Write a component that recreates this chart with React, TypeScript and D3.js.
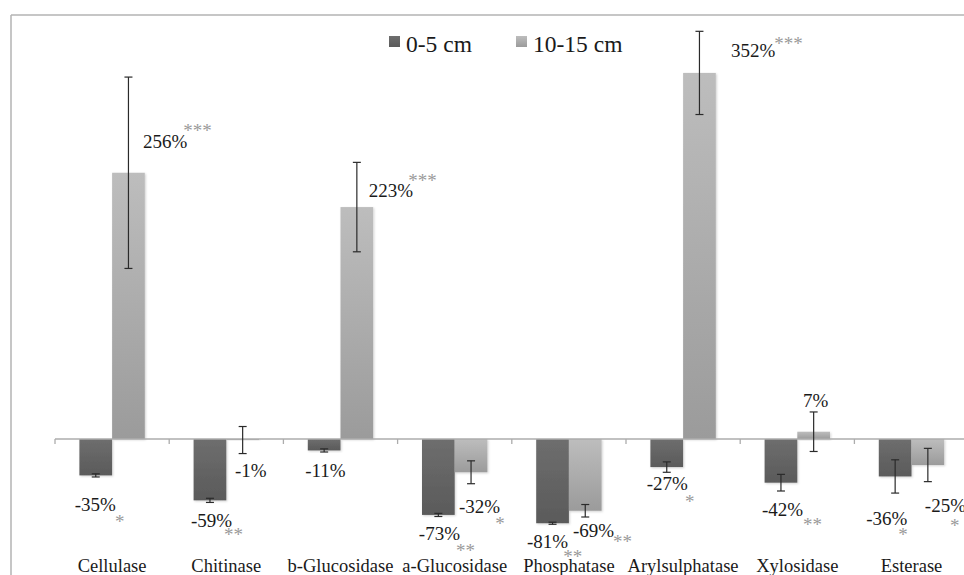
import React from "react";
import * as d3 from "d3";

const CATEGORIES = ["Cellulase", "Chitinase", "b-Glucosidase", "a-Glucosidase", "Phosphatase", "Arylsulphatase", "Xylosidase", "Esterase"];
const SERIES = ["0-5 cm", "10-15 cm"];
const VALUES_0_5 = [-35, -59, -11, -73, -81, -27, -42, -36];
const VALUES_10_15 = [256, -1, 223, -32, -69, 352, 7, -25];
const ERR_0_5 = [1.5, 2, 1.5, 1.5, 1, 5, 8, 16];
const ERR_10_15 = [92, 13, 43, 11, 6, 40, 19, 16];
const SIG_0_5 = ["*", "**", "", "**", "**", "*", "**", "*"];
const SIG_10_15 = ["***", "", "***", "*", "**", "***", "", "*"];

// layout: label offsets relative to bar end [dx, dy, starDx, starDy]
const LABEL_OFFSETS_0_5 = [
  [-21, 35.6, -1, 17], [-19, 26.6, -8, 14], [-19, 26.6, 0, 0], [-19.5, 25, -4, 17],
  [-25.5, 25, -5, 15], [-20, 23, -3, 18], [-19, 33, 0, 15], [-29, 48.6, -9, 16],
];
const LABEL_OFFSETS_10_15 = [
  [14.5, -24.8, -4, -11], [-7.6, 37, 0, 0], [12, -10, -5, -10], [-12, 40.7, -5, 17],
  [-12.3, 26, -1, 11], [31.5, -16, -1, -7], [-10.6, -24.7, 0, 0], [-3, 47, -16, 20],
];

const W = 964;
const H = 575;
const FONT = '"Liberation Serif", "DejaVu Serif", "Times New Roman", serif';

export default function App() {
  const x = d3.scaleBand<string>().domain(CATEGORIES).range([55, 55 + 8 * 114.2]).paddingInner(0).paddingOuter(0);
  const xs = d3.scaleBand<string>().domain(SERIES).range([0, x.bandwidth()]).paddingInner(0).paddingOuter(0.746);
  const y = d3.scaleLinear().domain([-100, 400]).range([439 + 104, 439 - 416]);
  const y0 = y(0);

  const series = [
    { key: SERIES[0], values: VALUES_0_5, err: ERR_0_5, sig: SIG_0_5, off: LABEL_OFFSETS_0_5, fill: "url(#gDark)" },
    { key: SERIES[1], values: VALUES_10_15, err: ERR_10_15, sig: SIG_10_15, off: LABEL_OFFSETS_10_15, fill: "url(#gLight)" },
  ];

  const fmt = (v: number) => `${v}%`;

  return (
    <div style={{ position: "absolute", left: 0, top: 0 }}>
      <svg width={W} height={H} style={{ display: "block", background: "#fff", fontFamily: FONT }}>
        <defs>
          <linearGradient id="gDark" x1="0" y1="0" x2="0" y2="1">
            <stop offset="0" stopColor="#6e6e6e" />
            <stop offset="1" stopColor="#5a5a5a" />
          </linearGradient>
          <linearGradient id="gLight" x1="0" y1="0" x2="0" y2="1">
            <stop offset="0" stopColor="#bdbdbd" />
            <stop offset="1" stopColor="#9b9b9b" />
          </linearGradient>
          <filter id="shadow" x="-20%" y="-20%" width="140%" height="140%">
            <feDropShadow dx="1" dy="1" stdDeviation="1" floodColor="#000" floodOpacity="0.18" />
          </filter>
        </defs>

        {/* frame */}
        <line x1={11} y1={15} x2={W} y2={15} stroke="#b3b3b3" strokeWidth={1.5} />
        <line x1={11} y1={15} x2={11} y2={H} stroke="#b3b3b3" strokeWidth={1.5} />

        {/* bars */}
        {series.map((s) =>
          CATEGORIES.map((c, i) => {
            const v = s.values[i];
            const bx = (x(c) ?? 0) + (xs(s.key) ?? 0);
            const yv = y(v);
            return (
              <rect
                key={`${s.key}-${c}`}
                x={bx}
                y={Math.min(yv, y0)}
                width={xs.bandwidth()}
                height={Math.abs(yv - y0)}
                fill={s.fill}
                filter="url(#shadow)"
              />
            );
          })
        )}

        {/* axis */}
        <line x1={55} y1={y0} x2={W} y2={y0} stroke="#acacac" strokeWidth={1.3} />
        {d3.range(CATEGORIES.length + 1).map((i) => {
          const tx = 55 + i * x.step();
          return <line key={`t${i}`} x1={tx} y1={y0} x2={tx} y2={y0 + 5} stroke="#acacac" strokeWidth={1.3} />;
        })}

        {/* error bars */}
        {series.map((s) =>
          CATEGORIES.map((c, i) => {
            const cx = (x(c) ?? 0) + (xs(s.key) ?? 0) + xs.bandwidth() / 2;
            const v = s.values[i];
            const e = s.err[i];
            const yt = y(v + e);
            const yb = y(v - e);
            return (
              <g key={`e-${s.key}-${c}`} stroke="#2a2a2a" strokeWidth={1.2}>
                <line x1={cx} y1={yt} x2={cx} y2={yb} />
                <line x1={cx - 4} y1={yt} x2={cx + 4} y2={yt} />
                <line x1={cx - 4} y1={yb} x2={cx + 4} y2={yb} />
              </g>
            );
          })
        )}

        {/* value labels */}
        {series.map((s) =>
          CATEGORIES.map((c, i) => {
            const cx = (x(c) ?? 0) + (xs(s.key) ?? 0) + xs.bandwidth() / 2;
            const v = s.values[i];
            const [dx, dy, sdx, sdy] = s.off[i];
            return (
              <text
                key={`l-${s.key}-${c}`}
                x={cx + dx}
                y={y(v) + dy}
                style={{ fontFamily: FONT, fontSize: "19px" }}
                fill="#1a1a1a"
              >
                {fmt(v)}
                {s.sig[i] ? (
                  <tspan dx={sdx} dy={sdy} fill="#9a9a9a">
                    {s.sig[i]}
                  </tspan>
                ) : null}
              </text>
            );
          })
        )}

        {/* category labels */}
        {CATEGORIES.map((c) => (
          <text
            key={`c-${c}`}
            x={(x(c) ?? 0) + x.bandwidth() / 2}
            y={572}
            textAnchor="middle"
            style={{ fontFamily: FONT, fontSize: "18.5px" }}
            fill="#1a1a1a"
          >
            {c}
          </text>
        ))}

        {/* legend */}
        {SERIES.map((k, i) => {
          const lx = i === 0 ? 389 : 516;
          return (
            <g key={`lg-${k}`}>
              <rect x={lx} y={36} width={11} height={11} fill={series[i].fill} />
              <text x={lx + 17} y={52} style={{ fontFamily: FONT, fontSize: "23.5px" }} fill="#1a1a1a">
                {k}
              </text>
            </g>
          );
        })}
      </svg>
    </div>
  );
}
